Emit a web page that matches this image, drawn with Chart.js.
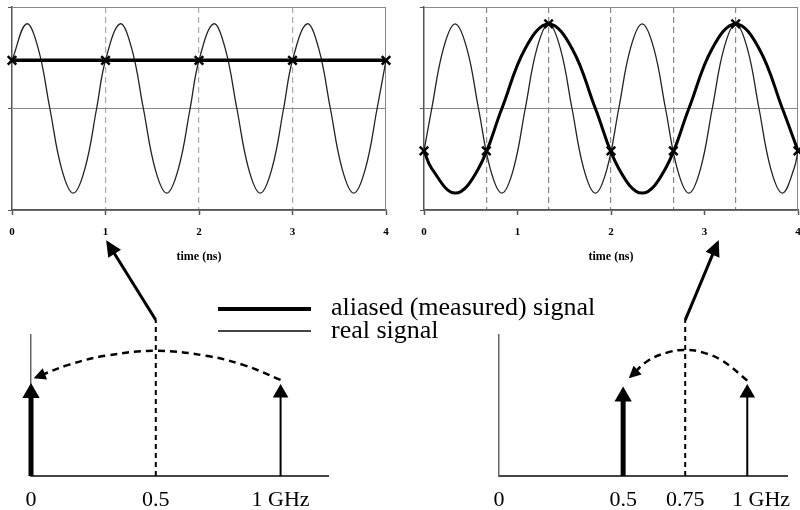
<!DOCTYPE html>
<html>
<head>
<meta charset="utf-8">
<script src="https://cdn.jsdelivr.net/npm/chart.js@4.4.1/dist/chart.umd.min.js"></script>
<style>
  body { margin: 0; background: #fff; }
  #page { position: relative; width: 800px; height: 510px; overflow: hidden; font-family: "Liberation Serif", serif; }
  #page canvas { position: absolute; }
  .key { position: absolute; left: 218px; width: 93px; background: #000; }
  .keyText { position: absolute; left: 331px; font-size: 26px; line-height: 26px; white-space: nowrap; color: #000; }
</style>
</head>
<body>
<div id="page">
  <canvas id="timeLeft" width="400" height="270" style="left:0;top:0"></canvas>
  <canvas id="timeRight" width="400" height="270" style="left:400px;top:0"></canvas>
  <canvas id="freqLeft" width="400" height="275" style="left:0;top:235px"></canvas>
  <canvas id="freqRight" width="400" height="275" style="left:400px;top:235px"></canvas>
  <div class="key" style="top:307px;height:4px"></div>
  <div class="keyText" style="top:294px">aliased (measured) signal</div>
  <div class="key" style="top:330px;height:2px;background:#444"></div>
  <div class="keyText" style="top:317px">real signal</div>
</div>
<script>
// time axis (ns) and amplitude grid
const timeTicks = [0, 1, 2, 3, 4];
const ampTicks = [-1.2, 0, 1.2];

// left: 1 GHz signal sampled every 1 ns
const leftMarks = [1, 2, 3];
const leftRealT = [0, 0.155, 0.28, 0.405, 0.53, 0.655, 0.78, 0.905,
  1, 1.155, 1.28, 1.405, 1.53, 1.655, 1.78, 1.905,
  2, 2.155, 2.28, 2.405, 2.53, 2.655, 2.78, 2.905,
  3, 3.155, 3.28, 3.405, 3.53, 3.655, 3.78, 3.905, 4];
const leftRealV = [0.57, 1, 0.71, 0, -0.71, -1, -0.71, 0,
  0.57, 1, 0.71, 0, -0.71, -1, -0.71, 0,
  0.57, 1, 0.71, 0, -0.71, -1, -0.71, 0,
  0.57, 1, 0.71, 0, -0.71, -1, -0.71, 0, 0.57];
const leftSampleT = [0, 1, 2, 3, 4];
const leftSampleV = [0.57, 0.57, 0.57, 0.57, 0.57];

// right: 1 GHz signal sampled every 2/3 ns
const rightMarks = [0.667, 1.333, 2, 2.667, 3.333];
const rightRealT = [0, 0.083, 0.208, 0.333, 0.458, 0.583, 0.708, 0.833, 0.958,
  1.083, 1.208, 1.333, 1.458, 1.583, 1.708, 1.833, 1.958,
  2.083, 2.208, 2.333, 2.458, 2.583, 2.708, 2.833, 2.958,
  3.083, 3.208, 3.333, 3.458, 3.583, 3.708, 3.833, 3.958, 4];
const rightRealV = [-0.5, 0, 0.71, 1, 0.71, 0, -0.71, -1, -0.71,
  0, 0.71, 1, 0.71, 0, -0.71, -1, -0.71,
  0, 0.71, 1, 0.71, 0, -0.71, -1, -0.71,
  0, 0.71, 1, 0.71, 0, -0.71, -1, -0.71, -0.5];
const rightAliasT = [0, 0.083, 0.333, 0.583, 0.833, 1.083, 1.333, 1.583, 1.833,
  2.083, 2.333, 2.583, 2.833, 3.083, 3.333, 3.583, 3.833, 4];
const rightAliasV = [-0.5, -0.71, -1, -0.71, 0, 0.71, 1, 0.71, 0,
  -0.71, -1, -0.71, 0, 0.71, 1, 0.71, 0, -0.5];
const rightSampleT = [0, 0.667, 1.333, 2, 2.667, 3.333, 4];
const rightSampleV = [-0.5, -0.5, 1, -0.5, -0.5, 1, -0.5];

// spectra (GHz)
const leftFreqTicks = [0, 0.5, 1];
const rightFreqTicks = [0, 0.5, 0.75, 1];
const leftStemF = [0, 1];       // aliased, real
const leftStemA = [1, 1];
const rightStemF = [0.5, 1];
const rightStemA = [0.96, 1];
const leftNyquist = 0.5;
const rightNyquist = 0.75;
const nyquistTop = 1.88;
const leftFoldF = [1, 0.85, 0.7, 0.5, 0.3, 0.15, 0.02];
const leftFoldA = [1.16, 1.34, 1.45, 1.51, 1.45, 1.34, 1.19];
const rightFoldF = [1, 0.9, 0.82, 0.75, 0.68, 0.6, 0.53];
const rightFoldA = [1.15, 1.39, 1.49, 1.52, 1.49, 1.39, 1.2];
const leftPointerF = [0.5, 0.308];
const leftPointerA = [1.88, 2.81];
const rightPointerF = [0.75, 0.88];
const rightPointerA = [1.88, 2.81];

const serif = "'Liberation Serif', 'Times New Roman', serif";
const pts = (xs, ys) => xs.map((x, i) => ({ x: x, y: ys[i] }));
const tickList = (list) => (s) => { s.ticks = list.map((v) => ({ value: v })); };

// top + right edge of the plot box
const frame = {
  id: "frame",
  beforeDatasetsDraw(chart) {
    const { ctx, chartArea: a } = chart;
    ctx.save();
    ctx.strokeStyle = "#888";
    ctx.lineWidth = 1;
    ctx.beginPath();
    ctx.moveTo(a.left, a.top + 0.5);
    ctx.lineTo(a.right - 0.5, a.top + 0.5);
    ctx.lineTo(a.right - 0.5, a.bottom);
    ctx.stroke();
    ctx.restore();
  },
};

// filled arrow head at the last point of datasets that ask for one
const arrowHeads = {
  id: "arrowHeads",
  afterDatasetsDraw(chart) {
    const ctx = chart.ctx;
    chart.data.datasets.forEach((ds, i) => {
      if (!ds.head) return;
      const el = chart.getDatasetMeta(i).data;
      const p1 = el[el.length - 1];
      const p0 = el[el.length - 2];
      const ang = Math.atan2(p1.y - p0.y, p1.x - p0.x);
      const len = ds.head[0];
      const half = ds.head[1];
      const over = (ds.borderWidth / 2) * (len / half);
      ctx.save();
      ctx.translate(p1.x, p1.y);
      ctx.rotate(ang);
      ctx.beginPath();
      ctx.moveTo(over, 0);
      ctx.lineTo(over - len, -half);
      ctx.lineTo(over - len, half);
      ctx.closePath();
      ctx.fillStyle = ds.borderColor;
      ctx.fill();
      ctx.restore();
    });
  },
};

function timeChart(id, datasets, marks, markColor, yWidth, padRight) {
  return new Chart(document.getElementById(id), {
    type: "line",
    data: { datasets: datasets },
    options: {
      responsive: false,
      animation: false,
      layout: { padding: { top: 7, right: padRight, left: 0, bottom: 0 }, autoPadding: false },
      plugins: { legend: { display: false }, tooltip: { enabled: false } },
      scales: {
        x: {
          type: "linear",
          min: 0,
          max: 4,
          afterBuildTicks: tickList(timeTicks),
          afterFit: (s) => { s.height = 60; s.paddingLeft = 0; s.paddingRight = 0; },
          ticks: {
            padding: 11,
            maxRotation: 0,
            autoSkip: false,
            color: "#000",
            font: { family: serif, weight: "bold", size: 11 },
          },
          grid: { drawOnChartArea: false, tickLength: 5, tickColor: "#555", tickWidth: 1.5 },
          border: { color: "#555", width: 1.5 },
          title: {
            display: true,
            text: "time (ns)",
            color: "#000",
            font: { family: serif, weight: "bold", size: 12 },
            padding: { top: 0, bottom: 6 },
          },
        },
        marks: {
          type: "linear",
          axis: "x",
          position: "bottom",
          min: 0,
          max: 4,
          afterBuildTicks: tickList(marks),
          afterFit: (s) => { s.height = 0; s.paddingLeft = 0; s.paddingRight = 0; },
          ticks: { display: false },
          grid: { drawTicks: false, color: markColor, lineWidth: 1.2 },
          border: { display: false, dash: [6, 4] },
        },
        y: {
          type: "linear",
          min: -1.2,
          max: 1.2,
          afterBuildTicks: tickList(ampTicks),
          afterFit: (s) => { s.width = yWidth; s.paddingTop = 0; s.paddingBottom = 0; },
          ticks: { display: false },
          grid: { color: "#888", lineWidth: 1, tickLength: 4, tickColor: "#555" },
          border: { color: "#555", width: 1.5 },
        },
      },
    },
    plugins: [frame],
  });
}

function freqChart(id, datasets, ticks, xMax, yWidth, padRight, unitLabel) {
  return new Chart(document.getElementById(id), {
    type: "line",
    data: { datasets: datasets },
    options: {
      responsive: false,
      animation: false,
      layout: { padding: { top: 100, right: padRight, left: 0, bottom: 0 }, autoPadding: false },
      plugins: { legend: { display: false }, tooltip: { enabled: false } },
      scales: {
        x: {
          type: "linear",
          min: 0,
          max: xMax,
          afterBuildTicks: tickList(ticks),
          afterFit: (s) => { s.height = 34; s.paddingLeft = 0; s.paddingRight = 0; },
          ticks: {
            padding: 3,
            maxRotation: 0,
            autoSkip: false,
            color: "#000",
            font: { family: serif, size: 22 },
            callback: (v) => (v === 1 ? unitLabel : String(v)),
          },
          grid: { display: false },
          border: { color: "#444", width: 2 },
        },
        y: {
          type: "linear",
          min: 0,
          max: 1.7,
          afterFit: (s) => { s.width = yWidth; s.paddingTop = 0; s.paddingBottom = 0; },
          ticks: { display: false },
          grid: { display: false },
          border: { color: "#666", width: 1.5 },
        },
      },
    },
    plugins: [arrowHeads],
  });
}

function spectrum(stemF, stemA, nyq, foldF, foldA, ptrF, ptrA) {
  return [
    { data: pts([stemF[0], stemF[0]], [0, stemA[0]]), borderColor: "#000", borderWidth: 5,
      pointStyle: "triangle", pointRadius: [0, 10], pointBorderWidth: 0, pointBackgroundColor: "#000", clip: false },
    { data: pts([stemF[1], stemF[1]], [0, stemA[1]]), borderColor: "#000", borderWidth: 2,
      pointStyle: "triangle", pointRadius: [0, 9], pointBorderWidth: 0, pointBackgroundColor: "#000", clip: false },
    { data: pts([nyq, nyq], [0, nyquistTop]), borderColor: "#000", borderWidth: 2,
      borderDash: [5, 4], pointRadius: 0, clip: false },
    { data: pts(foldF, foldA), borderColor: "#000", borderWidth: 2.5, borderDash: [7, 5],
      tension: 0.4, pointRadius: 0, clip: false, head: [12, 6] },
    { data: pts(ptrF, ptrA), borderColor: "#000", borderWidth: 3, pointRadius: 0, clip: false, head: [16, 7.5] },
  ];
}

timeChart("timeLeft", [
  { data: pts(leftSampleT, leftSampleV), borderColor: "#000", borderWidth: 3.5, tension: 0,
    pointStyle: "crossRot", pointRadius: 6, pointBorderWidth: 2.5, pointBorderColor: "#000", clip: false },
  { data: pts(leftRealT, leftRealV), borderColor: "#222", borderWidth: 1.3, pointRadius: 0, tension: 0.4, clip: false },
], leftMarks, "#aaa", 12, 14);

timeChart("timeRight", [
  { data: pts(rightSampleT, rightSampleV), showLine: false, borderColor: "#000",
    pointStyle: "crossRot", pointRadius: 6, pointBorderWidth: 2.5, pointBorderColor: "#000", clip: false },
  { data: pts(rightAliasT, rightAliasV), borderColor: "#000", borderWidth: 3, pointRadius: 0, tension: 0.4, clip: false },
  { data: pts(rightRealT, rightRealV), borderColor: "#222", borderWidth: 1.3, pointRadius: 0, tension: 0.4, clip: false },
], rightMarks, "#888", 24, 2);

freqChart("freqLeft",
  spectrum(leftStemF, leftStemA, leftNyquist, leftFoldF, leftFoldA, leftPointerF, leftPointerA),
  leftFreqTicks, 1.19, 31, 72, "1 GHz");

// the right-hand unit label sits a little to the right of its tick
freqChart("freqRight",
  spectrum(rightStemF, rightStemA, rightNyquist, rightFoldF, rightFoldA, rightPointerF, rightPointerA),
  rightFreqTicks, 1.16, 99, 13, "     1 GHz");
</script>
</body>
</html>
